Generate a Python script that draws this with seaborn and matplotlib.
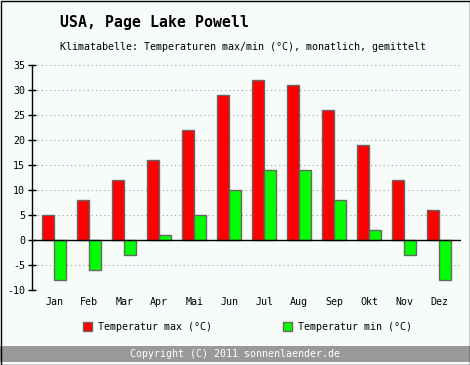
import matplotlib
matplotlib.use("Agg")
import matplotlib.pyplot as plt
import matplotlib.patches as mpatches
import pandas as pd
import seaborn as sns

# ---------------------------------------------------------------------------
# Data
# ---------------------------------------------------------------------------
MONTHS    = ["Jan", "Feb", "Mar", "Apr", "Mai", "Jun",
             "Jul", "Aug", "Sep", "Okt", "Nov", "Dez"]
TEMP_MAX  = [5, 8, 12, 16, 22, 29, 32, 31, 26, 19, 12, 6]
TEMP_MIN  = [-8, -6, -3, 1, 5, 10, 14, 14, 8, 2, -3, -8]
LBL_MAX   = "Temperatur max (°C)"
LBL_MIN   = "Temperatur min (°C)"
Y_TICKS   = [-10, -5, 0, 5, 10, 15, 20, 25, 30, 35]

TITLE     = "USA, Page Lake Powell"
SUBTITLE  = "Klimatabelle: Temperaturen max/min (°C), monatlich, gemittelt"
COPYRIGHT = "Copyright (C) 2011 sonnenlaender.de"

# ---------------------------------------------------------------------------
# Style
# ---------------------------------------------------------------------------
W, H   = 470, 365
DPI    = 100
BG     = "#f8fcf8"
RED    = "#ff0000"
GREEN  = "#00ff00"
EDGE   = "#666666"
FONT   = "DejaVu Sans Mono"
FS     = 7.2

sns.set_style("white")
plt.rcParams["font.family"] = [FONT]
plt.rcParams["text.color"] = "black"
plt.rcParams["xtick.color"] = "black"
plt.rcParams["ytick.color"] = "black"

df = pd.DataFrame({
    "month": MONTHS * 2,
    "temp":  TEMP_MAX + TEMP_MIN,
    "kind":  [LBL_MAX] * len(MONTHS) + [LBL_MIN] * len(MONTHS),
})

fig = plt.figure(figsize=(W / DPI, H / DPI), dpi=DPI, facecolor=BG)
ax = fig.add_axes([32 / W, (H - 290) / H, 429 / W, 225 / H])
ax.set_facecolor(BG)

sns.barplot(data=df, x="month", y="temp", hue="kind",
            palette=[RED, GREEN], width=0.686, gap=0, edgecolor=EDGE, linewidth=1.0,
            ax=ax, legend=False, saturation=1, zorder=3)

# category slots: 35 px apart, first group centred 22 px right of the axis
ax.set_xlim(-22.3 / 35, len(MONTHS) - 1 + 21.7 / 35)
ax.set_ylim(-10, 35)
ax.set_yticks(Y_TICKS)
ax.set_yticklabels([str(v) for v in Y_TICKS], fontsize=FS)
ax.tick_params(axis="y", direction="inout", length=6, width=1, pad=2, left=True)
ax.tick_params(axis="x", length=0, pad=5, labelsize=FS)
ax.set_xlabel("")
ax.set_ylabel("")

for v in Y_TICKS:
    if v != 0:
        ax.axhline(v, color="#999999", linestyle=(3, (1, 3)), linewidth=0.75, zorder=0)
ax.axhline(0, color="black", linewidth=1.0, zorder=5)

for side in ["top", "right", "bottom"]:
    ax.spines[side].set_visible(False)
ax.spines["left"].set_color("black")
ax.spines["left"].set_linewidth(1.0)

# titles
fig.text(60 / W, 1 - 22 / H, TITLE, fontsize=10.7, fontweight="bold",
         va="center", ha="left")
fig.text(60 / W, 1 - 47 / H, SUBTITLE, fontsize=FS, va="center", ha="left")

# legend
handles = [mpatches.Patch(facecolor=RED, edgecolor=EDGE, linewidth=1.0, label=LBL_MAX),
           mpatches.Patch(facecolor=GREEN, edgecolor=EDGE, linewidth=1.0, label=LBL_MIN)]
fig.legend(handles=handles, loc="center left", ncol=2,
           bbox_to_anchor=(83 / W, 1 - 327 / H), frameon=False, fontsize=FS,
           handlelength=0.9, handleheight=0.9, handletextpad=0.6,
           columnspacing=7.1, borderaxespad=0, borderpad=0)

# copyright bar and border
fig.patches.append(mpatches.Rectangle((0, 3 / H), 1, 16 / H, transform=fig.transFigure,
                                      facecolor="#999999", edgecolor="none", zorder=0))
fig.text(0.5, 11 / H, COPYRIGHT, fontsize=FS, color="white", ha="center", va="center")
fig.patches.append(mpatches.Rectangle((0.5 / W, 0.5 / H), 1 - 1 / W, 1 - 1 / H,
                                      transform=fig.transFigure, facecolor="none",
                                      edgecolor="black", linewidth=1.0, zorder=10))

fig.savefig("out.png", dpi=DPI, facecolor=BG)
